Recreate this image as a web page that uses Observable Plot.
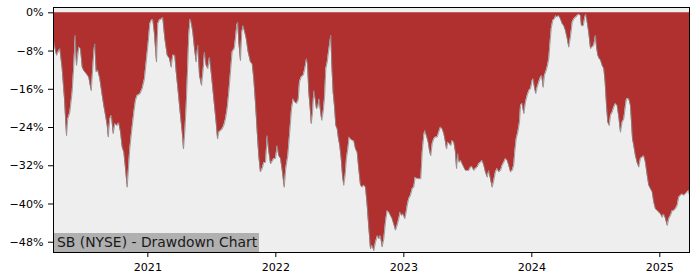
<!DOCTYPE html>
<html>
<head>
<meta charset="utf-8">
<script src="https://cdn.jsdelivr.net/npm/d3@7"></script>
<script src="https://cdn.jsdelivr.net/npm/@observablehq/plot@0.6"></script>
<style>
  html, body { margin: 0; padding: 0; background: #ffffff; }
  #wrap { position: relative; width: 700px; height: 280px; }
  #caption {
    position: absolute; left: 54px; top: 233px; width: 205px; height: 19px;
    background: #b0b0b0; color: #1a1a1a;
    font-family: "DejaVu Sans", sans-serif; font-size: 13.9px; line-height: 19px;
    padding-left: 3px; box-sizing: border-box; white-space: nowrap;
  }
</style>
</head>
<body>
<div id="wrap"></div>
<script>
// Time as decimal year, drawdown in percent
const years = [
  2020.263, 2020.279, 2020.287, 2020.313, 2020.331, 2020.349, 2020.365, 2020.375, 2020.391, 2020.409,
  2020.422, 2020.433, 2020.443, 2020.461, 2020.474, 2020.488, 2020.500, 2020.521, 2020.539, 2020.558,
  2020.568, 2020.578, 2020.586, 2020.597, 2020.609, 2020.625, 2020.644, 2020.656, 2020.670, 2020.683,
  2020.691, 2020.703, 2020.716, 2020.730, 2020.742, 2020.761, 2020.773, 2020.787, 2020.800, 2020.813,
  2020.826, 2020.839, 2020.847, 2020.859, 2020.873, 2020.891, 2020.904, 2020.917, 2020.938, 2020.956,
  2020.974, 2020.990, 2021.003, 2021.016, 2021.027, 2021.039, 2021.052, 2021.068, 2021.078, 2021.091,
  2021.107, 2021.117, 2021.133, 2021.152, 2021.170, 2021.183, 2021.195, 2021.211, 2021.222, 2021.238,
  2021.253, 2021.269, 2021.279, 2021.289, 2021.300, 2021.310, 2021.320, 2021.331, 2021.339, 2021.352,
  2021.365, 2021.378, 2021.391, 2021.404, 2021.420, 2021.433, 2021.443, 2021.456, 2021.469, 2021.482,
  2021.495, 2021.508, 2021.521, 2021.534, 2021.545, 2021.555, 2021.568, 2021.581, 2021.594, 2021.607,
  2021.620, 2021.633, 2021.646, 2021.659, 2021.675, 2021.685, 2021.695, 2021.703, 2021.711, 2021.724,
  2021.734, 2021.745, 2021.758, 2021.769, 2021.784, 2021.802, 2021.816, 2021.828, 2021.841, 2021.855,
  2021.867, 2021.880, 2021.894, 2021.906, 2021.920, 2021.933, 2021.943, 2021.959, 2021.972, 2021.984,
  2021.998, 2022.011, 2022.023, 2022.037, 2022.052, 2022.066, 2022.078, 2022.094, 2022.109, 2022.123,
  2022.136, 2022.148, 2022.162, 2022.175, 2022.185, 2022.198, 2022.214, 2022.227, 2022.240, 2022.248,
  2022.258, 2022.269, 2022.277, 2022.287, 2022.297, 2022.308, 2022.318, 2022.328, 2022.339, 2022.349,
  2022.359, 2022.370, 2022.381, 2022.391, 2022.402, 2022.412, 2022.422, 2022.430, 2022.438, 2022.448,
  2022.459, 2022.469, 2022.480, 2022.490, 2022.500, 2022.511, 2022.521, 2022.531, 2022.542, 2022.552,
  2022.563, 2022.573, 2022.584, 2022.597, 2022.609, 2022.623, 2022.636, 2022.648, 2022.662, 2022.675,
  2022.688, 2022.701, 2022.714, 2022.727, 2022.740, 2022.753, 2022.766, 2022.779, 2022.795, 2022.805,
  2022.818, 2022.831, 2022.844, 2022.857, 2022.870, 2022.883, 2022.896, 2022.909, 2022.925, 2022.935,
  2022.948, 2022.961, 2022.972, 2022.982, 2022.995, 2023.008, 2023.019, 2023.029, 2023.039, 2023.052,
  2023.066, 2023.078, 2023.089, 2023.105, 2023.117, 2023.133, 2023.144, 2023.156, 2023.164, 2023.177,
  2023.191, 2023.203, 2023.211, 2023.222, 2023.234, 2023.248, 2023.261, 2023.273, 2023.287, 2023.300,
  2023.313, 2023.326, 2023.334, 2023.344, 2023.357, 2023.367, 2023.378, 2023.391, 2023.404, 2023.412,
  2023.422, 2023.433, 2023.445, 2023.456, 2023.469, 2023.482, 2023.495, 2023.508, 2023.521, 2023.534,
  2023.547, 2023.560, 2023.573, 2023.586, 2023.599, 2023.612, 2023.625, 2023.638, 2023.652, 2023.664,
  2023.677, 2023.691, 2023.703, 2023.716, 2023.730, 2023.742, 2023.756, 2023.769, 2023.781, 2023.795,
  2023.808, 2023.820, 2023.834, 2023.847, 2023.859, 2023.867, 2023.878, 2023.891, 2023.904, 2023.912,
  2023.925, 2023.938, 2023.951, 2023.964, 2023.977, 2023.990, 2024.003, 2024.011, 2024.021, 2024.031,
  2024.042, 2024.055, 2024.068, 2024.078, 2024.089, 2024.099, 2024.109, 2024.120, 2024.133, 2024.141,
  2024.152, 2024.164, 2024.177, 2024.188, 2024.198, 2024.211, 2024.224, 2024.238, 2024.250, 2024.263,
  2024.277, 2024.289, 2024.302, 2024.316, 2024.328, 2024.341, 2024.355, 2024.367, 2024.381, 2024.388,
  2024.402, 2024.414, 2024.422, 2024.433, 2024.445, 2024.459, 2024.472, 2024.484, 2024.498, 2024.506,
  2024.516, 2024.527, 2024.537, 2024.550, 2024.563, 2024.573, 2024.584, 2024.594, 2024.605, 2024.615,
  2024.628, 2024.641, 2024.654, 2024.667, 2024.680, 2024.693, 2024.706, 2024.719, 2024.732, 2024.740,
  2024.758, 2024.771, 2024.779, 2024.787, 2024.797, 2024.810, 2024.823, 2024.836, 2024.849, 2024.863,
  2024.875, 2024.888, 2024.902, 2024.914, 2024.927, 2024.941, 2024.953, 2024.966, 2024.980, 2024.992,
  2025.006, 2025.019, 2025.031, 2025.045, 2025.058, 2025.070, 2025.084, 2025.097, 2025.109, 2025.123,
  2025.136, 2025.148, 2025.162, 2025.175, 2025.188, 2025.201, 2025.215, 2025.227, 2025.232
];
const drawdown = [
  -5.8, -7.9, -8.9, -7.5, -11.7, -18.0, -25.7, -22.2, -20.8, -16.6,
  -11.0, -4.7, -11.0, -7.2, -7.5, -11.4, -12.1, -12.8, -13.5, -16.3,
  -12.4, -8.2, -6.5, -12.4, -12.0, -13.8, -17.3, -19.4, -21.5, -23.6,
  -26.0, -22.2, -21.5, -25.3, -23.2, -23.6, -23.0, -25.0, -28.1, -29.2,
  -32.6, -36.5, -33.3, -28.5, -25.0, -20.8, -18.3, -17.3, -17.0, -15.9,
  -13.8, -9.6, -6.3, -2.3, -1.6, -1.4, -4.4, -10.3, -2.3, -1.5,
  -1.3, -1.0, -5.4, -8.9, -9.6, -11.4, -8.9, -8.9, -12.4, -16.6,
  -20.8, -25.0, -28.5, -25.0, -19.4, -12.4, -4.7, -1.3, -2.0, -4.1,
  -7.5, -10.3, -6.8, -13.1, -15.2, -11.7, -8.2, -11.0, -11.7, -9.3,
  -12.4, -15.9, -19.4, -22.9, -26.4, -25.0, -24.7, -24.3, -23.6, -22.2,
  -20.1, -16.6, -12.4, -8.2, -7.5, -5.4, -2.7, -2.0, -6.1, -10.0,
  -4.1, -2.7, -4.1, -5.4, -8.2, -10.3, -10.7, -13.8, -18.7, -25.0,
  -29.9, -33.3, -32.6, -31.3, -31.3, -25.7, -28.5, -31.6, -31.1, -30.5,
  -30.5, -27.8, -29.9, -30.5, -33.3, -36.5, -32.6, -29.9, -25.0, -20.1,
  -18.0, -18.7, -19.0, -18.3, -14.5, -13.5, -13.1, -11.7, -9.6, -10.7,
  -16.6, -20.1, -23.2, -21.0, -16.3, -18.0, -20.1, -19.8, -18.0, -20.5,
  -22.5, -20.8, -17.7, -11.7, -10.3, -8.2, -6.3, -4.7, -11.0, -16.6,
  -19.7, -23.6, -24.3, -26.4, -27.8, -30.5, -34.0, -36.1, -34.0, -30.5,
  -28.5, -26.0, -26.4, -26.7, -26.7, -28.5, -29.2, -32.6, -36.1, -36.5,
  -36.1, -36.5, -40.3, -45.0, -49.4, -48.7, -49.8, -48.0, -46.6, -47.3,
  -46.6, -49.0, -47.3, -43.8, -41.4, -41.7, -42.4, -43.1, -44.5, -45.5,
  -44.5, -43.1, -41.7, -42.4, -42.1, -43.1, -41.7, -40.0, -38.9, -38.2,
  -36.8, -36.5, -34.4, -34.7, -34.7, -34.7, -29.2, -25.7, -24.6, -25.7,
  -27.1, -29.2, -29.9, -27.4, -26.4, -26.0, -26.0, -25.0, -23.9, -24.3,
  -25.3, -27.1, -28.5, -27.1, -27.4, -27.8, -26.7, -27.1, -29.2, -32.6,
  -29.5, -31.3, -30.9, -31.6, -32.3, -33.0, -33.0, -33.0, -32.3, -32.2,
  -33.0, -32.6, -32.3, -31.6, -31.3, -30.9, -31.9, -33.3, -34.4, -33.0,
  -34.7, -36.5, -35.1, -33.3, -32.6, -33.3, -33.0, -31.9, -31.3, -30.5,
  -30.9, -31.9, -33.3, -33.0, -31.9, -29.2, -26.4, -25.0, -22.9, -19.4,
  -19.0, -21.1, -18.7, -17.3, -16.3, -15.9, -14.2, -13.8, -15.6, -16.9,
  -15.6, -14.5, -13.5, -13.1, -15.6, -13.1, -12.4, -11.4, -9.6, -6.8,
  -3.3, -1.6, -1.3, -0.6, -0.9, -0.6, -1.3, -2.3, -2.7, -3.7,
  -5.4, -7.2, -5.1, -2.0, -1.3, -1.0, -0.6, -0.3, -0.6, -2.7,
  -2.7, -1.0, -0.3, -2.0, -4.1, -7.5, -7.2, -6.8, -4.7, -7.2,
  -8.9, -9.6, -9.9, -11.0, -11.7, -14.5, -19.4, -22.9, -23.6, -21.5,
  -20.8, -19.7, -19.0, -19.4, -21.8, -25.0, -22.9, -22.2, -19.4, -18.0,
  -18.0, -19.4, -22.9, -26.4, -27.8, -29.9, -31.3, -32.3, -30.5, -30.2,
  -29.9, -31.3, -34.0, -36.1, -36.8, -37.5, -39.6, -41.0, -41.4, -41.7,
  -42.1, -42.8, -42.1, -43.1, -44.5, -43.1, -42.4, -41.4, -41.4, -41.0,
  -40.3, -38.6, -38.2, -37.9, -38.2, -37.9, -37.5, -37.2, -38.2
];
const xTicks = [2021, 2022, 2023, 2024, 2025];
const yTicks = [0, -8, -16, -24, -32, -40, -48];
const captionText = "SB (NYSE) - Drawdown Chart";

const data = years.map((t, i) => ({t, dd: drawdown[i]}));

const fmtPct = d => (d < 0 ? "\u2212" + (-d) : String(d)) + "%";

const chart = Plot.plot({
  width: 700,
  height: 280,
  marginLeft: 53,
  marginRight: 11,
  marginTop: 7,
  marginBottom: 28,
  style: {fontFamily: "DejaVu Sans, sans-serif", fontSize: "11.1px", color: "#000", background: "#ffffff"},
  x: {domain: [2020.263, 2025.232], ticks: xTicks, tickFormat: d => String(d), tickSize: 5, tickPadding: 6, label: null},
  y: {domain: [-50.15, 1.11], ticks: yTicks, tickFormat: fmtPct, tickSize: 5, tickPadding: 5, label: null},
  marks: [
    Plot.frame({fill: "#eeeeee", stroke: null}),
    Plot.areaY(data, {x: "t", y1: 0, y2: "dd", fill: "#b02f2f"}),
    Plot.line(data, {x: "t", y: "dd", stroke: "#8c8c8c", strokeWidth: 0.8}),
    Plot.frame({stroke: "#000", strokeWidth: 1})
  ]
});

const wrap = document.getElementById("wrap");
wrap.appendChild(chart);
const cap = document.createElement("div");
cap.id = "caption";
cap.textContent = captionText;
wrap.appendChild(cap);
</script>
</body>
</html>
